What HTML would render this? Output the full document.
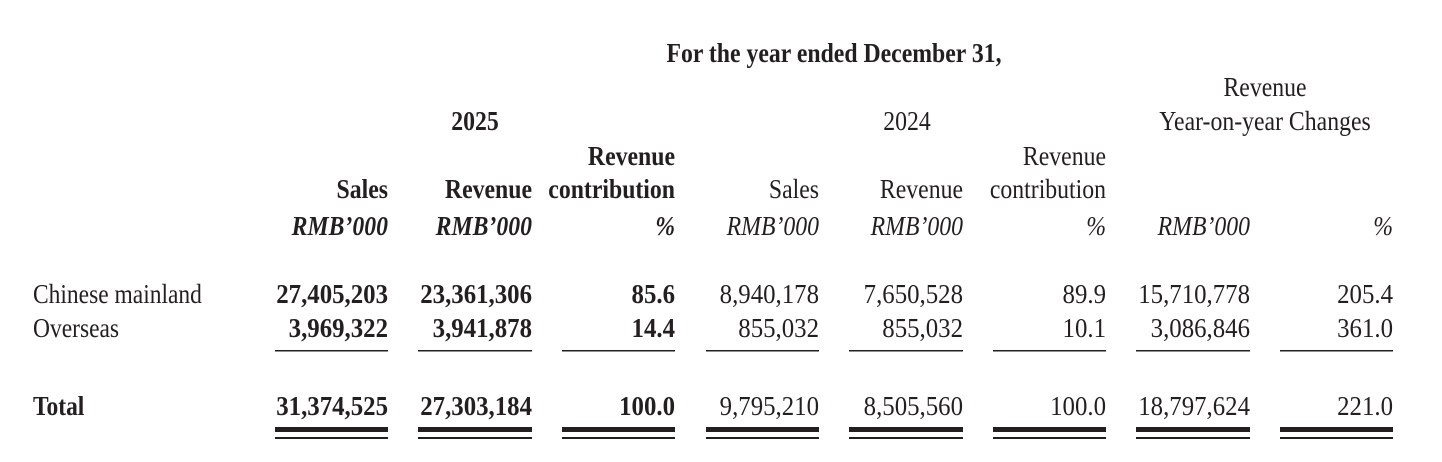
<!DOCTYPE html>
<html><head><style>
html,body{margin:0;padding:0;background:#fff;}
svg{display:block}
text{font-family:"Liberation Serif",serif;font-size:27px;fill:#231f20}
.b{font-weight:bold}
.i{font-style:italic}
</style></head><body>
<svg width="1442" height="462" xmlns="http://www.w3.org/2000/svg">
<g id="t">
<text class="b" text-anchor="middle" transform="translate(834,62) scale(0.88,1)">For the year ended December 31,</text>
<text class="b" text-anchor="middle" transform="translate(475,130) scale(0.88,1)">2025</text>
<text text-anchor="middle" transform="translate(907,130) scale(0.88,1)">2024</text>
<text text-anchor="middle" transform="translate(1265,96) scale(0.88,1)">Revenue</text>
<text text-anchor="middle" transform="translate(1265,130) scale(0.88,1)">Year-on-year Changes</text>

<text class="b" text-anchor="end" transform="translate(675,165) scale(0.88,1)">Revenue</text>
<text text-anchor="end" transform="translate(1106,165) scale(0.88,1)">Revenue</text>

<text class="b" text-anchor="end" transform="translate(388,198) scale(0.88,1)">Sales</text>
<text class="b" text-anchor="end" transform="translate(532,198) scale(0.88,1)">Revenue</text>
<text class="b" text-anchor="end" transform="translate(675,198) scale(0.88,1)">contribution</text>
<text text-anchor="end" transform="translate(819,198) scale(0.88,1)">Sales</text>
<text text-anchor="end" transform="translate(963,198) scale(0.88,1)">Revenue</text>
<text text-anchor="end" transform="translate(1106,198) scale(0.88,1)">contribution</text>

<text class="b i" text-anchor="end" transform="translate(388,235) scale(0.88,1)">RMB’000</text>
<text class="b i" text-anchor="end" transform="translate(532,235) scale(0.88,1)">RMB’000</text>
<text class="b i" text-anchor="end" transform="translate(675,235) scale(0.88,1)">%</text>
<text class="i" text-anchor="end" transform="translate(819,235) scale(0.88,1)">RMB’000</text>
<text class="i" text-anchor="end" transform="translate(963,235) scale(0.88,1)">RMB’000</text>
<text class="i" text-anchor="end" transform="translate(1106,235) scale(0.88,1)">%</text>
<text class="i" text-anchor="end" transform="translate(1250,235) scale(0.88,1)">RMB’000</text>
<text class="i" text-anchor="end" transform="translate(1393,235) scale(0.88,1)">%</text>

<text transform="translate(33,303) scale(0.87,1)">Chinese mainland</text>
<text transform="translate(33,337) scale(0.87,1)">Overseas</text>
<text class="b" transform="translate(33,415) scale(0.87,1)">Total</text>

<g text-anchor="end">
<text class="b" transform="translate(388,303) scale(0.92,1)">27,405,203</text>
<text class="b" transform="translate(532,303) scale(0.92,1)">23,361,306</text>
<text class="b" transform="translate(675,303) scale(0.92,1)">85.6</text>
<text transform="translate(819,303) scale(0.92,1)">8,940,178</text>
<text transform="translate(963,303) scale(0.92,1)">7,650,528</text>
<text transform="translate(1106,303) scale(0.92,1)">89.9</text>
<text transform="translate(1250,303) scale(0.92,1)">15,710,778</text>
<text transform="translate(1393,303) scale(0.92,1)">205.4</text>

<text class="b" transform="translate(388,337) scale(0.92,1)">3,969,322</text>
<text class="b" transform="translate(532,337) scale(0.92,1)">3,941,878</text>
<text class="b" transform="translate(675,337) scale(0.92,1)">14.4</text>
<text transform="translate(819,337) scale(0.92,1)">855,032</text>
<text transform="translate(963,337) scale(0.92,1)">855,032</text>
<text transform="translate(1106,337) scale(0.92,1)">10.1</text>
<text transform="translate(1250,337) scale(0.92,1)">3,086,846</text>
<text transform="translate(1393,337) scale(0.92,1)">361.0</text>

<text class="b" transform="translate(388,415) scale(0.92,1)">31,374,525</text>
<text class="b" transform="translate(532,415) scale(0.92,1)">27,303,184</text>
<text class="b" transform="translate(675,415) scale(0.92,1)">100.0</text>
<text transform="translate(819,415) scale(0.92,1)">9,795,210</text>
<text transform="translate(963,415) scale(0.92,1)">8,505,560</text>
<text transform="translate(1106,415) scale(0.92,1)">100.0</text>
<text transform="translate(1250,415) scale(0.92,1)">18,797,624</text>
<text transform="translate(1393,415) scale(0.92,1)">221.0</text>
</g>
</g>
<g fill="#231f20">
<rect x="275" y="350" width="113" height="1.5"/><rect x="418" y="350" width="114" height="1.5"/><rect x="562" y="350" width="113" height="1.5"/><rect x="706" y="350" width="113" height="1.5"/><rect x="849" y="350" width="114" height="1.5"/><rect x="993" y="350" width="113" height="1.5"/><rect x="1136" y="350" width="114" height="1.5"/><rect x="1280" y="350" width="113" height="1.5"/>
<rect x="275" y="427" width="113" height="5"/><rect x="418" y="427" width="114" height="5"/><rect x="562" y="427" width="113" height="5"/><rect x="706" y="427" width="113" height="5"/><rect x="849" y="427" width="114" height="5"/><rect x="993" y="427" width="113" height="5"/><rect x="1136" y="427" width="114" height="5"/><rect x="1280" y="427" width="113" height="5"/>
<rect x="275" y="437" width="113" height="2"/><rect x="418" y="437" width="114" height="2"/><rect x="562" y="437" width="113" height="2"/><rect x="706" y="437" width="113" height="2"/><rect x="849" y="437" width="114" height="2"/><rect x="993" y="437" width="113" height="2"/><rect x="1136" y="437" width="114" height="2"/><rect x="1280" y="437" width="113" height="2"/>
</g>
</svg>
</body></html>
